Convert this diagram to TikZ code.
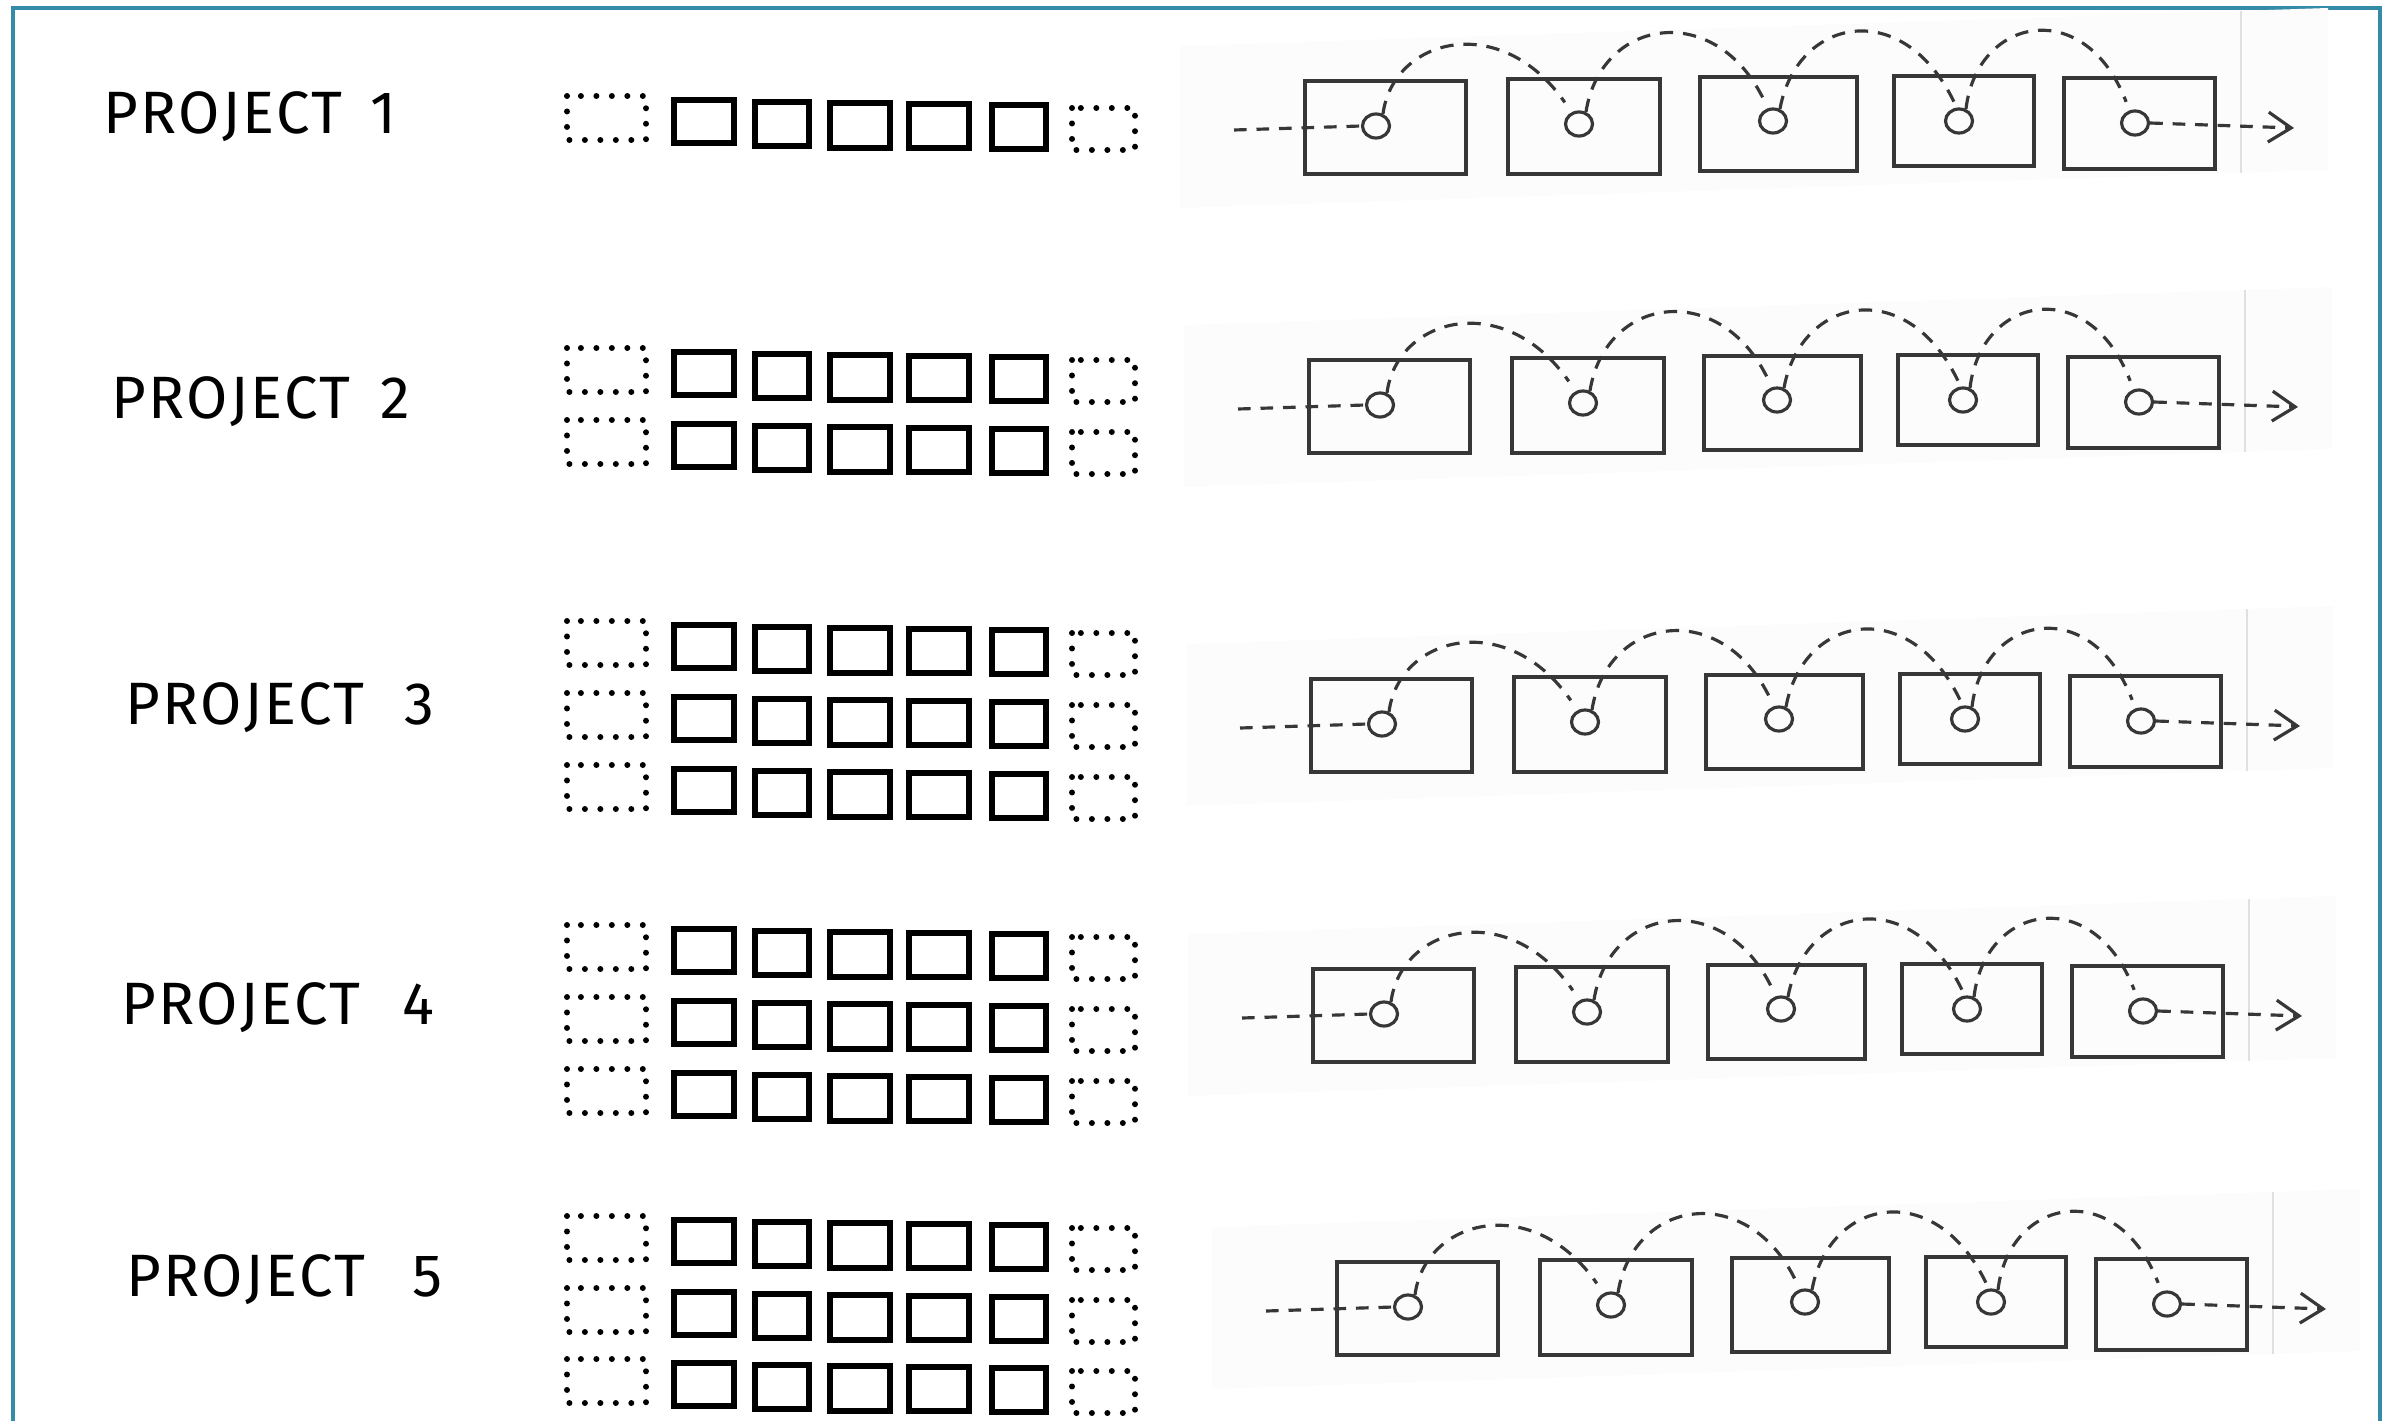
\documentclass[tikz,border=0pt]{standalone}
\usepackage{fontspec}
\setmainfont[LetterSpace=4]{Fira Sans}
\usepackage{tikz}
\usetikzlibrary{arrows.meta, shapes.geometric}
\definecolor{framecyan}{RGB}{54,140,168}
\definecolor{pencil}{RGB}{55,55,55}
\tikzset{
  slotbox/.style={draw=black, line width=1.8pt},
  spareslot/.style={draw=black, line width=1.7pt, line cap=round, dash pattern=on 0pt off 4.4pt},
  listbox/.style={draw=pencil, line width=1pt, inner sep=0pt, outer sep=0pt},
  listring/.style={draw=pencil, line width=0.9pt, ellipse, minimum width=0.27cm, minimum height=0.24cm, inner sep=0pt},
  listarc/.style={draw=pencil, line width=0.9pt, dash pattern=on 3.8pt off 2.8pt},
  listlink/.style={draw=pencil, line width=0.9pt, dash pattern=on 3.6pt off 2.8pt},
  projlabel/.style={anchor=west, inner sep=0pt, font=\fontsize{17}{20}\selectfont}
}

\begin{document}
\begin{tikzpicture}[x=0.01cm, y=-0.01cm]
    \useasboundingbox (0,0) rectangle (2388,1421);

    % Frame
    \draw[framecyan, line width=0.9pt] (13,1421) -- (13,8) -- (2380,8) -- (2380,1421);

    % Project labels
    \node[projlabel] (proj1) at (103,117) {PROJECT\hspace{0.28cm}1};
    \node[projlabel] (proj2) at (111,402) {PROJECT\hspace{0.3cm}2};
    \node[projlabel] (proj3) at (125,708) {PROJECT\hspace{0.4cm}3};
    \node[projlabel] (proj4) at (121,1008) {PROJECT\hspace{0.42cm}4};
    \node[projlabel] (proj5) at (126,1280) {PROJECT\hspace{0.47cm}5};

    % Slot rows
    \foreach \ty in {100, 352, 424, 625, 697, 769, 929, 1001, 1073, 1220, 1292, 1363} {
        \draw[spareslot] (567,\ty-4) rectangle (646,\ty+40);
        \foreach \xa/\xb/\ya/\yb in {674/734/0/43, 755/809/2/46, 830/890/3/48, 909/969/4/48, 992/1046/5/49}
            \draw[slotbox] (\xa,\ty+\ya) rectangle (\xb,\ty+\yb);
        \draw[spareslot] (1072,\ty+8) rectangle (1135,\ty+50);
    }

    % Linked lists
    \foreach \p/\ox/\oy in {1/1305/126, 2/1309/405, 3/1311/724, 4/1313/1014, 5/1337/1307} {
        \begin{scope}[shift={(\ox,\oy)}]
            % scanned paper
            \fill[black!1] (-125,-80) -- (1023,-118) -- (1023,44) -- (-125,82) -- cycle;
            \draw[black!12, line width=0.4pt] (936,-115) -- (936,47);

            % boxes and rings
            \foreach \i/\cx/\cy/\w/\h in {1/80.5/1.5/161/93, 2/279/0.5/152/95, 3/473.5/-2/157/94, 4/659/-5/140/90, 5/834.5/-2.5/151/91}
                \node[listbox, minimum width={\w*0.01cm}, minimum height={\h*0.01cm}] (b\p\i) at (\cx,\cy) {};
            \foreach \i/\cx/\cy in {1/71/0, 2/274/-2, 3/468/-5, 4/654/-5, 5/830/-3}
                \node[listring] (r\p\i) at (\cx,\cy) {};

            % links
            \draw[listarc, shorten >=3.4pt] (r\p1.60) .. controls +(10,-76) and +(-71,-102) .. (r\p2.122);
            \draw[listarc, shorten >=2.6pt] (r\p2.60) .. controls +(15,-95) and +(-52,-108) .. (r\p3.112);
            \draw[listarc, shorten >=0.5pt] (r\p3.60) .. controls +(17,-93) and +(-51,-112) .. (r\p4.100);
            \draw[listarc, shorten >=2.6pt] (r\p4.60) .. controls +(11,-93) and +(-44,-115) .. (r\p5.114);

            \coordinate (in\p) at (-71,4);
            \coordinate (out\p) at (989,2);
            \draw[listlink] (in\p) -- (r\p1.west);
            \draw[listlink, -{Straight Barb[length=6.5pt, width=8.5pt]}] (r\p5.east) -- (out\p);
        \end{scope}
    }
\end{tikzpicture}
\end{document}
